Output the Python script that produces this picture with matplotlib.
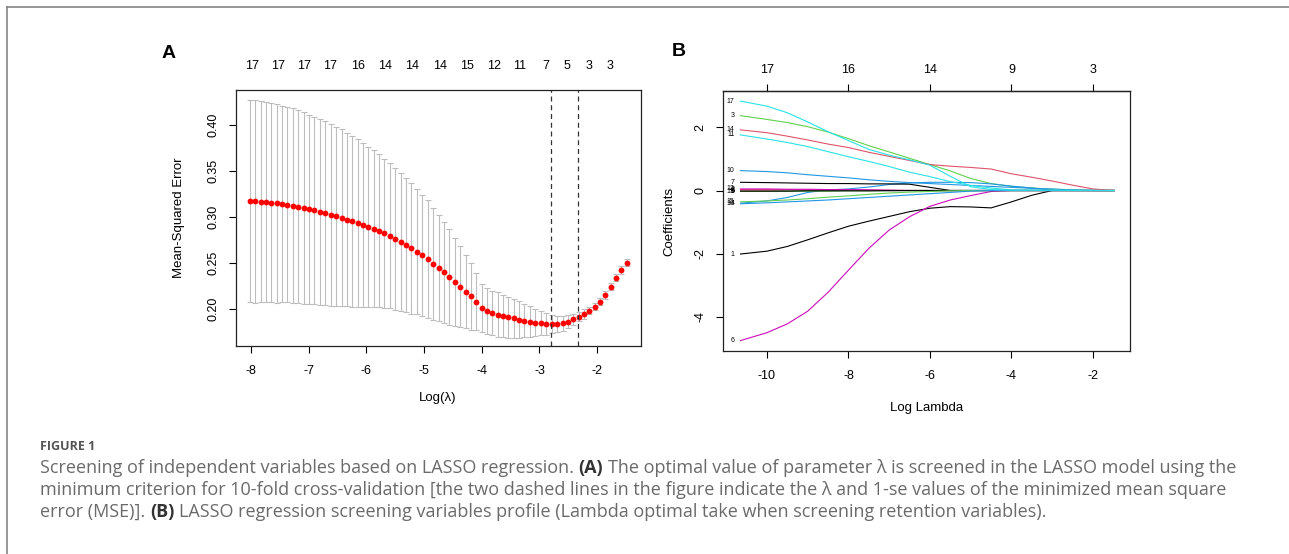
import matplotlib
matplotlib.use('Agg')
import matplotlib.pyplot as plt
import matplotlib.transforms as mtransforms
from matplotlib.lines import Line2D

plt.rcParams['font.family'] = ['Liberation Sans', 'DejaVu Sans']
plt.rcParams['axes.unicode_minus'] = False

W, H = 1289, 554

# ---- panel A: 10-fold cross validation ----
log_lambda_cv = [-8.02, -7.93, -7.83, -7.74, -7.65, -7.55, -7.46, -7.37, -7.27, -7.18,
                 -7.09, -6.99, -6.90, -6.81, -6.71, -6.62, -6.53, -6.43, -6.34, -6.25,
                 -6.15, -6.06, -5.97, -5.87, -5.78, -5.69, -5.59, -5.50, -5.40, -5.31,
                 -5.22, -5.12, -5.03, -4.94, -4.84, -4.75, -4.66, -4.56, -4.47, -4.38,
                 -4.28, -4.19, -4.10, -4.00, -3.91, -3.82, -3.72, -3.63, -3.54, -3.44,
                 -3.35, -3.26, -3.16, -3.07, -2.98, -2.88, -2.79, -2.70, -2.60, -2.51,
                 -2.42, -2.32, -2.23, -2.14, -2.04, -1.95, -1.86, -1.76, -1.67, -1.58,
                 -1.48]
cv_mse = [0.3174, 0.3170, 0.3167, 0.3163, 0.3156, 0.3149, 0.3141, 0.3134, 0.3123, 0.3112,
          0.3098, 0.3083, 0.3072, 0.3054, 0.3040, 0.3025, 0.3007, 0.2993, 0.2971, 0.2953,
          0.2935, 0.2917, 0.2895, 0.2873, 0.2851, 0.2822, 0.2797, 0.2764, 0.2732, 0.2696,
          0.2659, 0.2623, 0.2583, 0.2540, 0.2493, 0.2446, 0.2397, 0.2346, 0.2295, 0.2242,
          0.2190, 0.2136, 0.2080, 0.2008, 0.1978, 0.1957, 0.1940, 0.1924, 0.1910, 0.1897,
          0.1884, 0.1872, 0.1862, 0.1853, 0.1846, 0.1841, 0.1838, 0.1839, 0.1845, 0.1862,
          0.1888, 0.1917, 0.1946, 0.1982, 0.2025, 0.2080, 0.2152, 0.2243, 0.2340, 0.2424,
          0.2503]
cv_se = [0.110, 0.110, 0.109, 0.109, 0.108, 0.108, 0.107, 0.106, 0.106, 0.105,
         0.104, 0.103, 0.102, 0.101, 0.100, 0.099, 0.097, 0.096, 0.094, 0.093,
         0.091, 0.089, 0.087, 0.085, 0.083, 0.081, 0.079, 0.077, 0.075, 0.073,
         0.071, 0.068, 0.066, 0.064, 0.061, 0.058, 0.055, 0.052, 0.048, 0.044,
         0.040, 0.036, 0.031, 0.026, 0.025, 0.024, 0.024, 0.023, 0.022, 0.021,
         0.020, 0.018, 0.017, 0.015, 0.013, 0.012, 0.010, 0.009, 0.008, 0.007,
         0.006, 0.005, 0.005, 0.004, 0.004, 0.004, 0.004, 0.004, 0.004, 0.004,
         0.004]
lambda_min = -2.80
lambda_1se = -2.33
nz_pos = [-7.98, -7.53, -7.08, -6.63, -6.15, -5.68, -5.21, -4.72, -4.26, -3.79,
          -3.34, -2.89, -2.52, -2.14, -1.78]
nz_labels = ['17', '17', '17', '17', '16', '14', '14', '14', '15', '12',
             '11', '7', '5', '3', '3']

# ---- panel B: coefficient profiles ----
log_lambda_path = [-10.65, -10, -9.5, -9, -8.5, -8, -7.5, -7, -6.5, -6,
                   -5.5, -5, -4.5, -4, -3.5, -3, -2.5, -2, -1.48]
coef_1 = [-2.01, -1.92, -1.77, -1.56, -1.34, -1.13, -0.97, -0.82, -0.67, -0.56,
          -0.51, -0.52, -0.55, -0.36, -0.15, 0, 0, 0, 0]
coef_2 = [0.03, 0.03, 0.03, 0.02, 0.02, 0.01, 0.01, 0, 0, 0, 0, 0, 0, 0, 0, 0, 0, 0, 0]
coef_3 = [2.37, 2.25, 2.15, 2.02, 1.85, 1.64, 1.42, 1.22, 1.02, 0.82,
          0.62, 0.38, 0.22, 0.13, 0.08, 0.04, 0.01, 0, 0]
coef_4 = [-0.40, -0.33, -0.22, -0.06, 0.02, 0.05, 0.11, 0.19, 0.24, 0.26,
          0.26, 0.25, 0.21, 0.14, 0.08, 0.01, 0, 0, 0]
coef_5 = [-0.02, -0.02, -0.01, -0.01, 0, 0, 0, 0, 0, 0, 0, 0, 0, 0, 0, 0, 0, 0, 0]
coef_6 = [-4.75, -4.50, -4.22, -3.82, -3.22, -2.52, -1.83, -1.25, -0.83, -0.50,
          -0.30, -0.16, -0.03, 0, 0, 0, 0, 0, 0]
coef_7 = [0.26, 0.25, 0.24, 0.23, 0.22, 0.22, 0.21, 0.21, 0.20, 0.10,
          0, 0, 0, 0, 0, 0, 0, 0, 0]
coef_8 = [0.01, 0.01, 0.01, 0.01, 0.01, 0.01, 0.005, 0.005, 0, 0, 0, 0, 0, 0, 0, 0, 0, 0, 0]
coef_9 = [-0.03, -0.03, -0.02, -0.02, -0.02, -0.01, -0.01, 0, 0, 0, 0, 0, 0, 0, 0, 0, 0, 0, 0]
coef_10 = [0.63, 0.60, 0.56, 0.50, 0.45, 0.40, 0.34, 0.29, 0.25, 0.22,
           0.19, 0.16, 0.13, 0.10, 0.07, 0.05, 0.02, 0, 0]
coef_11 = [1.76, 1.63, 1.52, 1.39, 1.23, 1.07, 0.92, 0.76, 0.58, 0.44,
           0.28, 0.16, 0.08, 0.02, 0.01, 0.01, 0.01, 0.005, 0]
coef_12 = [0.05, 0.05, 0.04, 0.04, 0.03, 0.03, 0.02, 0.01, 0, 0, 0, 0, 0, 0, 0, 0, 0, 0, 0]
coef_13 = [-0.02, -0.02, -0.02, -0.01, -0.01, -0.01, -0.01, -0.005, 0, 0, 0, 0, 0, 0, 0, 0, 0, 0, 0]
coef_14 = [1.92, 1.83, 1.72, 1.60, 1.47, 1.36, 1.21, 1.08, 0.95, 0.82,
           0.77, 0.73, 0.68, 0.53, 0.42, 0.30, 0.17, 0.05, 0]
coef_15 = [-0.36, -0.33, -0.30, -0.26, -0.21, -0.17, -0.12, -0.08, -0.05, -0.03,
           -0.01, 0, 0, 0, 0, 0, 0, 0, 0]
coef_16 = [-0.42, -0.39, -0.36, -0.33, -0.30, -0.26, -0.22, -0.18, -0.14, -0.10,
           -0.06, -0.02, 0, 0, 0, 0, 0, 0, 0]
coef_17 = [2.83, 2.67, 2.46, 2.17, 1.86, 1.58, 1.30, 1.12, 0.97, 0.80,
           0.45, 0.12, 0.03, 0.01, 0.01, 0.01, 0.005, 0.005, 0]
coef_paths = [coef_1, coef_2, coef_3, coef_4, coef_5, coef_6, coef_7, coef_8, coef_9,
              coef_10, coef_11, coef_12, coef_13, coef_14, coef_15, coef_16, coef_17]
top_pos_b = [-10, -8, -6, -4, -2]
top_labels_b = ['17', '16', '14', '9', '3']

r_palette = ['black', '#DF536B', '#61D04F', '#2297E6', '#28E2E5', '#CD0BBC']

fig = plt.figure(figsize=(W / 100, H / 100), dpi=100)


def fx(px):
    return px / W


def fy(py):
    return 1 - py / H


def style_axes(ax):
    for sp in ax.spines.values():
        sp.set_linewidth(0.9)
        sp.set_color('#222222')
    ax.tick_params(direction='out', length=5, width=0.8, labelsize=9, pad=7,
                   top=False, right=False)
    ax.tick_params(axis='x', pad=9)
    for lab in ax.get_yticklabels():
        lab.set_rotation(90)
        lab.set_va('center')


# panel A
axA = fig.add_axes([fx(236), fy(346), fx(641) - fx(236), fy(90) - fy(346)])
axA.errorbar(log_lambda_cv, cv_mse, yerr=cv_se, fmt='none', ecolor='#BDBDBD',
             elinewidth=0.8, capsize=2.5, capthick=0.8)
axA.plot(log_lambda_cv, cv_mse, 'o', color='red', ms=4.2, mec='none')
axA.axvline(lambda_min, color='#333333', lw=0.9, ls=(0, (4, 3)))
axA.axvline(lambda_1se, color='#333333', lw=0.9, ls=(0, (4, 3)))
axA.set_xlim(-8.26, -1.24)
axA.set_ylim(0.1598, 0.438)
axA.set_xticks([-8, -7, -6, -5, -4, -3, -2])
axA.set_yticks([0.20, 0.25, 0.30, 0.35, 0.40])
axA.set_yticklabels(['0.20', '0.25', '0.30', '0.35', '0.40'])
style_axes(axA)
trA = mtransforms.blended_transform_factory(axA.transData, axA.transAxes)
for p, lab in zip(nz_pos, nz_labels):
    axA.text(p, 1.094, lab, transform=trA, ha='center', va='center', fontsize=9)

# panel B
axB = fig.add_axes([fx(723), fy(351), fx(1130) - fx(723), fy(91) - fy(351)])
for i, path in enumerate(coef_paths):
    axB.plot(log_lambda_path, path, color=r_palette[i % 6], lw=0.8)
    axB.text(log_lambda_path[0] - 0.15, path[0], str(i + 1), ha='right', va='center',
             fontsize=5)
axB.set_xlim(-11.08, -1.09)
axB.set_ylim(-5.08, 3.15)
axB.set_xticks([-10, -8, -6, -4, -2])
axB.set_yticks([-4, -2, 0, 2])
style_axes(axB)
secB = axB.secondary_xaxis('top')
secB.set_xticks(top_pos_b, labels=top_labels_b)
secB.tick_params(direction='out', length=5, width=0.8, labelsize=9, pad=6)
secB.spines['top'].set_linewidth(0.9)

# axis titles and panel letters
fig.text(fx(438), fy(398), 'Log(λ)', ha='center', va='center', fontsize=9.5)
fig.text(fx(179), fy(218), 'Mean-Squared Error', ha='center', va='center',
         rotation=90, fontsize=9.5)
fig.text(fx(927), fy(408), 'Log Lambda', ha='center', va='center', fontsize=9.5)
fig.text(fx(669), fy(221), 'Coefficients', ha='center', va='center',
         rotation=90, fontsize=9.5)
fig.text(fx(169), fy(53), 'A', ha='center', va='center', fontsize=14, fontweight='bold')
fig.text(fx(679), fy(52), 'B', ha='center', va='center', fontsize=14, fontweight='bold')

# outer frame of the figure box
fig.add_artist(Line2D([fx(7), 1], [fy(7), fy(7)], color='#7a7a7a', lw=1.1))
fig.add_artist(Line2D([fx(7), fx(7)], [fy(7), 0], color='#7a7a7a', lw=1.1))

# caption
cap_font = ['Open Sans', 'DejaVu Sans']
fig.text(fx(40), fy(447), 'FIGURE 1', ha='left', va='center', fontsize=9,
         fontweight='bold', color='#555555', family=cap_font)

caption_lines = [
    [('Screening of independent variables based on LASSO regression.', False),
     ('(A)', True),
     ('The optimal value of parameter λ is screened in the LASSO model using the', False)],
    [('minimum criterion for 10-fold cross-validation [the two dashed lines in the '
      'figure indicate the λ and 1-se values of the minimized mean square', False)],
    [('error (MSE)].', False), ('(B)', True),
     ('LASSO regression screening variables profile (Lambda optimal take when '
      'screening retention variables).', False)],
]
caption_y = [468, 490, 512]

renderer = fig.canvas.get_renderer()


def text_width(s, size, bold=False):
    t = fig.text(0, 0, s, fontsize=size, family=cap_font,
                 fontweight='bold' if bold else 'normal')
    w = t.get_window_extent(renderer).width
    t.remove()
    return w


def line_width(parts, size):
    sp = text_width('x x', size) - text_width('xx', size)
    return sum(text_width(s, size, b) for s, b in parts) + sp * (len(parts) - 1)


# fit the first caption line to the width it has in the source
cap_size = 11 * (1243 - 40) / line_width(caption_lines[0], 11)
space_px = text_width('x x', cap_size) - text_width('xx', cap_size)

for parts, y in zip(caption_lines, caption_y):
    x = 40
    for s, bold in parts:
        t = fig.text(fx(x), fy(y), s, ha='left', va='center', fontsize=cap_size,
                     family=cap_font, fontweight='bold' if bold else 'normal',
                     color='#333333' if bold else '#6a6a6a')
        x += t.get_window_extent(renderer).width + space_px

fig.savefig('out.png', dpi=100)
